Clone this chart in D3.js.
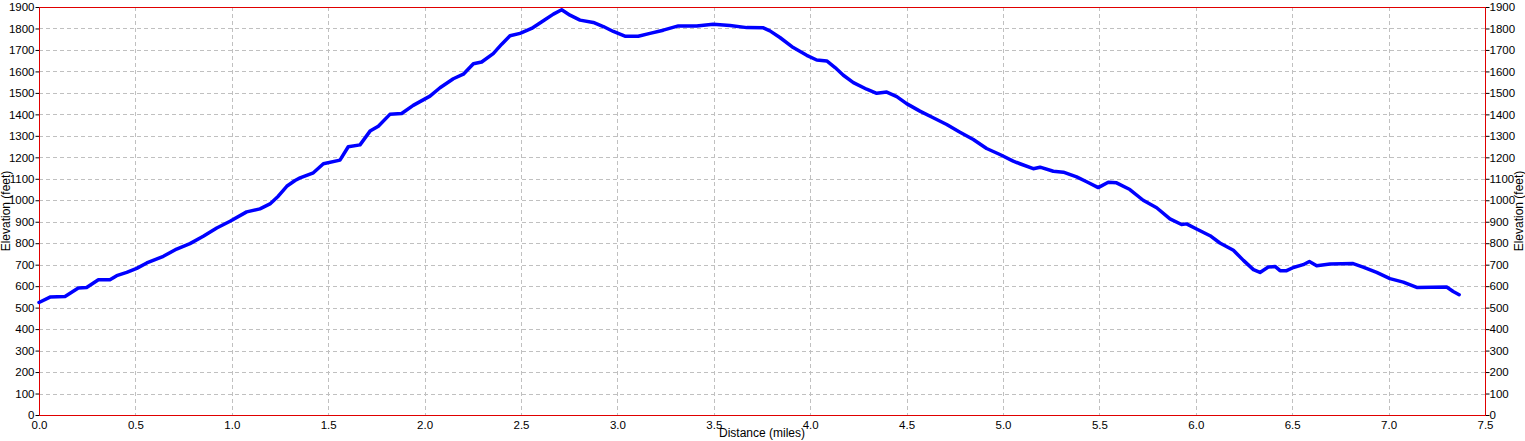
<!DOCTYPE html>
<html>
<head>
<meta charset="utf-8">
<script src="https://cdn.jsdelivr.net/npm/d3@7"></script>
<style>
  html, body { margin: 0; padding: 0; background: #fff; }
  svg { display: block; }
  text { font-family: "Liberation Sans", Arial, sans-serif; fill: #000; }
</style>
</head>
<body>
<svg id="chart" width="1525" height="441"></svg>
<script>
// Distance (miles)
const distance = [0.000, 0.057, 0.135, 0.204, 0.247, 0.308, 0.368, 0.403, 0.455, 0.507, 0.559, 0.645, 0.714, 0.783, 0.852, 0.922, 0.991, 1.077, 1.146, 1.198, 1.241, 1.285, 1.328, 1.354, 1.423, 1.475, 1.561, 1.604, 1.665, 1.717, 1.760, 1.820, 1.881, 1.941, 2.028, 2.080, 2.149, 2.201, 2.253, 2.296, 2.356, 2.400, 2.443, 2.495, 2.555, 2.616, 2.668, 2.711, 2.754, 2.806, 2.875, 2.927, 2.979, 3.039, 3.108, 3.169, 3.238, 3.316, 3.411, 3.497, 3.584, 3.671, 3.757, 3.791, 3.843, 3.912, 3.982, 4.034, 4.086, 4.129, 4.172, 4.224, 4.293, 4.345, 4.397, 4.449, 4.500, 4.569, 4.638, 4.708, 4.777, 4.846, 4.915, 4.984, 5.053, 5.088, 5.157, 5.192, 5.261, 5.313, 5.382, 5.434, 5.494, 5.546, 5.589, 5.658, 5.727, 5.797, 5.866, 5.926, 5.952, 6.004, 6.074, 6.125, 6.195, 6.247, 6.299, 6.333, 6.376, 6.411, 6.437, 6.471, 6.506, 6.557, 6.589, 6.627, 6.696, 6.816, 6.868, 6.938, 7.007, 7.076, 7.146, 7.301, 7.335, 7.366];
// Elevation (feet)
const elevation = [524, 549, 552, 591, 594, 630, 630, 649, 664, 683, 708, 739, 773, 798, 832, 871, 902, 946, 960, 983, 1019, 1065, 1092, 1104, 1128, 1170, 1187, 1249, 1258, 1322, 1345, 1400, 1404, 1442, 1485, 1524, 1566, 1587, 1636, 1644, 1683, 1727, 1766, 1777, 1800, 1836, 1867, 1887, 1862, 1839, 1828, 1809, 1786, 1764, 1764, 1777, 1792, 1812, 1812, 1820, 1814, 1804, 1803, 1789, 1758, 1711, 1675, 1653, 1649, 1618, 1582, 1548, 1517, 1498, 1504, 1483, 1450, 1415, 1384, 1353, 1317, 1283, 1241, 1213, 1182, 1170, 1147, 1154, 1135, 1131, 1109, 1086, 1059, 1084, 1081, 1050, 1000, 965, 913, 887, 890, 866, 835, 801, 767, 720, 677, 664, 689, 692, 672, 672, 687, 700, 715, 695, 703, 705, 689, 664, 635, 619, 594, 596, 575, 560];

const xTicks = [0, 0.5, 1, 1.5, 2, 2.5, 3, 3.5, 4, 4.5, 5, 5.5, 6, 6.5, 7, 7.5];
const yTicks = d3.range(0, 1901, 100);
const xTitle = "Distance (miles)";
const yTitle = "Elevation (feet)";

(function () {
const svg = d3.select("#chart");
const pL = 39, pR = 1485, pT = 7, pB = 415;

const x = d3.scaleLinear().domain([0, 7.5]).range([pL, pR]);
const y = d3.scaleLinear().domain([0, 1900]).range([pB, pT]);

// grid
const grid = svg.append("g").attr("stroke", "#c0c0c0").attr("stroke-dasharray", "4,3").attr("shape-rendering", "crispEdges");
grid.selectAll("line.v").data(xTicks.filter(d => d > 0 && d < 7.5)).join("line")
  .attr("class", "v")
  .attr("x1", d => Math.round(x(d)) + 0.5).attr("x2", d => Math.round(x(d)) + 0.5)
  .attr("y1", pT).attr("y2", pB);
grid.selectAll("line.h").data(yTicks.filter(d => d > 0 && d < 1900)).join("line")
  .attr("class", "h")
  .attr("x1", pL).attr("x2", pR)
  .attr("y1", d => Math.round(y(d)) + 0.5).attr("y2", d => Math.round(y(d)) + 0.5);

// axes
const fmtY = d3.format("d");
const gl = svg.append("g").attr("transform", `translate(${pL + 0.5},0)`)
  .call(d3.axisLeft(y).tickValues(yTicks).tickFormat(fmtY).tickSize(4).tickPadding(1));
const gr = svg.append("g").attr("transform", `translate(${pR + 0.5},0)`)
  .call(d3.axisRight(y).tickValues(yTicks).tickFormat(fmtY).tickSize(4).tickPadding(0));
const gb = svg.append("g").attr("transform", `translate(0,${pB + 0.5})`)
  .call(d3.axisBottom(x).tickValues(xTicks).tickFormat(d3.format(".1f")).tickSize(0).tickPadding(5));

[gl, gr, gb].forEach(g => {
  g.selectAll("text").attr("font-size", 11.5).attr("font-family", "Liberation Sans, Arial, sans-serif").attr("fill", "#000");
  g.selectAll(".tick line").attr("stroke", "#000");
  g.select(".domain").remove();
});

// frame
svg.append("rect").attr("x", pL + 0.5).attr("y", pT + 0.5)
  .attr("width", pR - pL).attr("height", pB - pT)
  .attr("fill", "none").attr("stroke", "#e00000").attr("stroke-width", 1);

// line
const line = d3.line().x((d, i) => x(distance[i])).y(d => y(d));
svg.append("path").datum(elevation)
  .attr("d", line)
  .attr("fill", "none").attr("stroke", "#0000ff").attr("stroke-width", 3.5)
  .attr("stroke-linejoin", "round").attr("stroke-linecap", "round");

// titles
svg.append("text").attr("x", (pL + pR) / 2).attr("y", 437)
  .attr("text-anchor", "middle").attr("font-size", 12).text(xTitle);
svg.append("text").attr("transform", `translate(10,${(pT + pB) / 2}) rotate(-90)`)
  .attr("text-anchor", "middle").attr("font-size", 12).text(yTitle);
svg.append("text").attr("transform", `translate(1522.5,${(pT + pB) / 2}) rotate(-90)`)
  .attr("text-anchor", "middle").attr("font-size", 12).text(yTitle);
})();
</script>
</body>
</html>
